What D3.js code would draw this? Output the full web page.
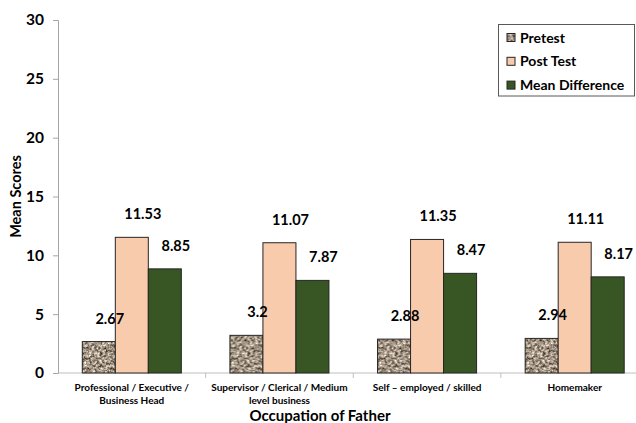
<!DOCTYPE html>
<html>
<head>
<meta charset="utf-8">
<script src="https://cdn.jsdelivr.net/npm/d3@7"></script>
<style>
  html, body { margin: 0; padding: 0; background: #fff; }
  svg { display: block; font-family: Lato, "Open Sans", "Liberation Sans", sans-serif; }
</style>
</head>
<body>
<svg id="chart" width="636" height="423"></svg>
<script>
// Mean scores by father's occupation
const categories = [
  "Professional / Executive /\nBusiness Head",
  "Supervisor / Clerical / Medium\nlevel business",
  "Self \u2013 employed / skilled",
  "Homemaker"
];
const seriesNames = ["Pretest", "Post Test", "Mean Difference"];
const pretest = [2.67, 3.2, 2.88, 2.94];
const postTest = [11.53, 11.07, 11.35, 11.11];
const meanDifference = [8.85, 7.87, 8.47, 8.17];
const yTicks = [0, 5, 10, 15, 20, 25, 30];

const seriesValues = [pretest, postTest, meanDifference];
const seriesFill = ["url(#granite)", "#f8cbad", "#375623"];

const svg = d3.select("#chart");
const margin = { left: 58, right: -12.5, top: 20, bottom: 50 };
const W = 636, H = 423;

// Granite-like texture for the pretest bars
const defs = svg.append("defs");
const filt = defs.append("filter").attr("id", "grainFilter")
  .attr("x", 0).attr("y", 0).attr("width", "100%").attr("height", "100%")
  .attr("color-interpolation-filters", "sRGB");
filt.append("feTurbulence").attr("type", "fractalNoise")
  .attr("baseFrequency", 0.38).attr("numOctaves", 3).attr("seed", 7);
filt.append("feColorMatrix").attr("type", "matrix")
  .attr("values", "1.3 0 0 0 -0.02  1.3 0 0 0 -0.07  1.3 0 0 0 -0.13  0 0 0 0 1");
const pat = defs.append("pattern").attr("id", "granite")
  .attr("patternUnits", "userSpaceOnUse").attr("width", 60).attr("height", 60);
pat.append("rect").attr("width", 60).attr("height", 60).attr("fill", "#a09282");
pat.append("rect").attr("width", 60).attr("height", 60).attr("filter", "url(#grainFilter)");

const x0 = d3.scaleBand()
  .domain(d3.range(categories.length))
  .range([margin.left, W - margin.right])
  .paddingInner(0).paddingOuter(0);
const x1 = d3.scaleBand()
  .domain(d3.range(seriesNames.length))
  .range([0, x0.bandwidth()])
  .paddingOuter(0.736).paddingInner(0);
const y = d3.scaleLinear().domain([0, 30]).range([H - margin.bottom, margin.top]);

// Y axis
const yAxis = svg.append("g")
  .attr("transform", `translate(${margin.left},0)`)
  .call(d3.axisLeft(y).tickValues(yTicks).tickSize(5).tickPadding(9));
yAxis.select(".domain").attr("stroke", "#a6a6a6");
yAxis.selectAll(".tick line").attr("stroke", "#a6a6a6");
yAxis.selectAll(".tick text")
  .attr("font-size", 15.5).attr("font-weight", 700).attr("fill", "#000")
  .attr("font-family", "Lato, sans-serif");

// X axis baseline with category separators
const xAxis = svg.append("g")
  .attr("transform", `translate(0,${y(0)})`);
xAxis.append("line")
  .attr("x1", margin.left).attr("x2", W)
  .attr("stroke", "#bfbfbf");
xAxis.selectAll("line.sep")
  .data(d3.range(1, categories.length))
  .join("line").attr("class", "sep")
  .attr("x1", d => x0(d)).attr("x2", d => x0(d))
  .attr("y1", 0).attr("y2", 5)
  .attr("stroke", "#bfbfbf");

// Category labels
const catLabels = svg.append("g").selectAll("text")
  .data(categories)
  .join("text")
  .attr("text-anchor", "middle")
  .attr("font-size", 10).attr("font-weight", 700).attr("fill", "#000")
  .attr("x", (d, i) => x0(i) + x0.bandwidth() / 2)
  .attr("y", y(0) + 18);
catLabels.each(function (d) {
  const t = d3.select(this);
  const xx = t.attr("x");
  d.split("\n").forEach((line, k) => {
    t.append("tspan").attr("x", xx).attr("dy", k === 0 ? 0 : 13).text(line);
  });
});

// Bars
const groups = svg.append("g").selectAll("g")
  .data(categories.map((c, i) => i))
  .join("g")
  .attr("transform", i => `translate(${x0(i)},0)`);

groups.selectAll("rect")
  .data(i => seriesValues.map((vals, s) => ({ s, v: vals[i] })))
  .join("rect")
  .attr("x", d => x1(d.s))
  .attr("width", x1.bandwidth())
  .attr("y", d => y(d.v))
  .attr("height", d => y(0) - y(d.v))
  .attr("fill", d => seriesFill[d.s])
  .attr("stroke", "#262626").attr("stroke-width", 1);

// Value labels
groups.selectAll("text.val")
  .data(i => seriesValues.map((vals, s) => ({ s, v: vals[i] })))
  .join("text").attr("class", "val")
  .attr("text-anchor", "middle")
  .attr("font-size", 14.5).attr("font-weight", 700).attr("fill", "#000")
  .attr("x", d => x1(d.s) + x1.bandwidth() / 2 + 11)
  .attr("y", d => y(d.v) - 18)
  .text(d => d.v);

// Axis titles
svg.append("text")
  .attr("transform", `translate(21,${(y(0) + y(30)) / 2}) rotate(-90)`)
  .attr("text-anchor", "middle")
  .attr("font-size", 14.5).attr("font-weight", 700).attr("fill", "#000")
  .text("Mean Scores");
svg.append("text")
  .attr("x", 320).attr("y", 421)
  .attr("text-anchor", "middle")
  .attr("font-size", 15).attr("font-weight", 700).attr("fill", "#000")
  .text("Occupation of Father");

// Legend
const legend = svg.append("g");
legend.append("rect")
  .attr("x", 498.5).attr("y", 24.5).attr("width", 136).attr("height", 71.5)
  .attr("fill", "#fff").attr("stroke", "#595959");
const items = legend.selectAll("g.item")
  .data(seriesNames)
  .join("g").attr("class", "item")
  .attr("transform", (d, i) => `translate(507,${37.5 + i * 23.8})`);
items.append("rect")
  .attr("x", 0).attr("y", -4).attr("width", 8).attr("height", 8)
  .attr("fill", (d, i) => seriesFill[i])
  .attr("stroke", "#262626").attr("stroke-width", 1);
items.append("text")
  .attr("x", 13).attr("y", 5)
  .attr("font-size", 14).attr("font-weight", 700).attr("fill", "#000")
  .text(d => d);
</script>
</body>
</html>
